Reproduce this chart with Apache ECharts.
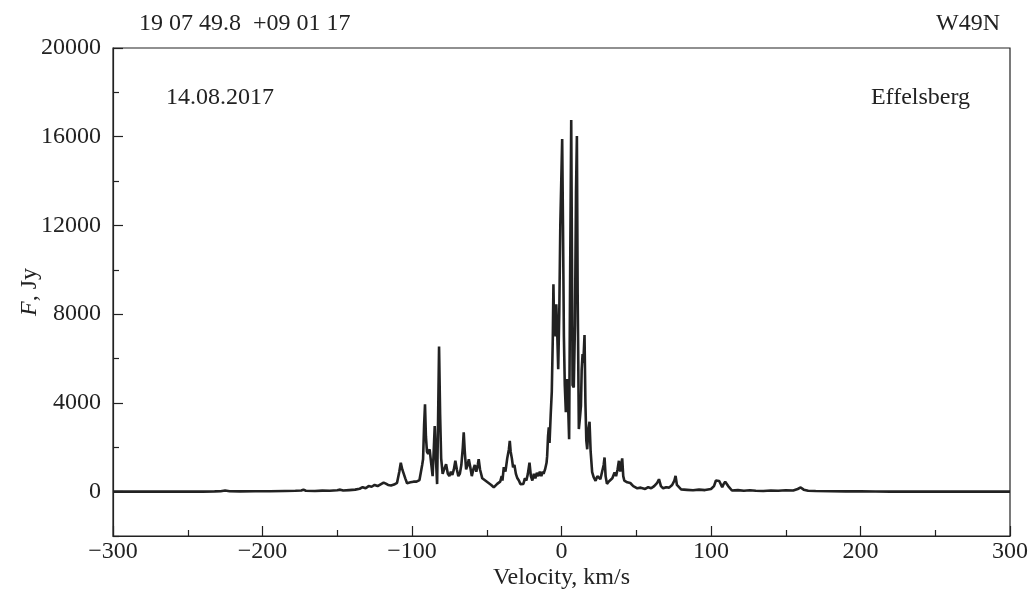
<!DOCTYPE html>
<html>
<head>
<meta charset="utf-8">
<script src="https://cdn.jsdelivr.net/npm/echarts@6/dist/echarts.min.js"></script>
<style>
html,body{margin:0;padding:0;background:#fff;}
#chart{width:1032px;height:596px;}
</style>
</head>
<body>
<div id="chart"></div>
<script>
// Velocity (km/s)
const velocity = [
-300,-290,-280,-270,-260,-250,-240,-232,-228,-225,-222,-215,-205,-195,-185,-178,-174,-172.6,-171,-165,-160,-155,-150,-148,-146,-142,-138,-135,-133,-131,-129,-127,-125,-123,-121,-119,-117.5,-116,-114,-112,-110,
-108.5,-107.5,-106.5,-105.5,-104.5,-103.3,-101,-99,-97,-95,-94,-93.2,-92.6,-91.9,-91.3,-90.7,-90,-89.2,-88.2,-87.2,-86.2,-85.5,-84.8,-84,-83.2,-82.6,-81.9,-81.2,-80.5,-79.5,-78.5,-77.2,-76,-75,-74,-73,-72,-71,-70,-69,-68,-67,-66,-65.4,-64.7,-63.8,-62.8,-62,-61,-60,-59,-58,-57,-56,-55.4,-54.5,-53,-51,-49,-47,-45.3,-44,-43,-42,-41,-40,-39.5,-38.6,-37.5,-36.3,-35.2,-34.6,-34,-33.2,-32.4,-31.5,-30.5,-29.5,-28.5,-27.5,-26.5,-25.5,-24.5,-23.5,-22.5,-21.4,-20.5,-19.5,-18.5,-17.5,-16.5,-15.5,-14.5,-13.5,-12.5,
-12,-11,-10,-9.6,-9,-8.5,-8,-7.2,-6.5,-5.8,-5.4,-5,-4.5,-4,-3.5,-3,-2.2,-1.5,-0.8,0,0.45,1,1.6,2.2,2.9,3.4,3.8,4.3,5.1,5.8,6.5,7.0,7.4,8.2,9.0,9.7,10.3,10.8,11.6,12.3,13.0,13.5,14.1,14.6,15.4,16,16.6,17.2,18,18.75,19.5,20.5,21.5,22.8,24,25,26,27,28.2,28.8,29.5,30.4,31.5,32.8,34,35.5,36.5,37.5,38.4,39.3,40.6,41.3,42,44,46,48,50.7,53,56,58,60,62,64,65.2,66.5,68,70,72,74,75.5,76.3,77.2,80,84,88,92,96,100,102,103.3,104.3,105.5,106.5,107.5,108.5,109.5,110.5,111.5,114,118,122,126,130,135,140,145,150,155,158,160,162,165,170,180,190,200,210,220,240,260,280,300
];
// Flux density (Jy)
const flux = [
0,5,0,8,0,5,0,10,20,50,20,10,20,15,30,40,50,90,40,30,45,40,60,90,50,70,90,130,200,150,250,220,300,250,330,410,360,300,280,320,400,
900,1300,1000,950,600,380,420,450,450,520,500,1200,1460,3000,3940,2500,1800,1700,1910,1300,700,1800,2960,1500,340,3000,6540,3500,1500,800,1000,1240,800,700,900,750,1000,1390,1000,700,800,1200,2000,2670,1800,1000,1200,1460,1100,700,1000,1200,900,1200,1460,1000,600,500,400,300,190,250,350,300,450,700,500,1100,900,1500,1900,2290,1800,1500,1100,1200,800,600,500,340,400,350,600,500,800,1310,700,500,800,600,850,700,900,700,900,
800,1000,1300,1600,2500,2900,2200,3500,4500,7000,9350,7600,8300,7000,8450,7500,5520,8000,12000,14500,15900,12000,7000,4800,3580,4500,5070,4200,2360,10000,16750,10500,4800,4700,7500,13500,16030,9000,2820,3300,3870,5500,6200,5800,7060,4000,2300,1910,2800,3150,1800,880,650,490,700,770,560,650,1200,1540,700,350,450,400,600,865,700,1000,1390,900,1500,700,500,420,390,250,150,180,120,200,150,250,400,560,250,150,200,180,300,500,710,300,100,80,60,90,70,120,250,500,560,480,400,200,350,450,490,250,50,70,40,60,40,30,50,40,60,50,120,190,90,40,30,20,10,15,5,0,5,0,0,0
];
const xTicks = [-300,-200,-100,0,100,200,300];
const yMajor = [0,4000,8000,12000,16000,20000];
const yMinor = [-2000,2000,6000,10000,14000,18000];

const data = velocity.map((v,i)=>[v, flux[i]]);
const ink = '#222';
const serif = 'Liberation Serif';
const chart = echarts.init(document.getElementById('chart'), null, {renderer:'canvas'});
chart.setOption({
  animation:false,
  backgroundColor:'#fff',
  grid:{left:113,right:22,top:48,bottom:60,outerBoundsMode:'none',containLabel:false,show:true,borderColor:ink,borderWidth:1.2,backgroundColor:'transparent'},
  xAxis:{
    type:'value',min:-300,max:300,interval:100,
    axisLine:{onZero:false,lineStyle:{color:ink,width:1.2}},
    axisTick:{inside:true,length:10,lineStyle:{color:ink,width:1.2}},
    minorTick:{show:true,splitNumber:2,length:6,lineStyle:{color:ink,width:1.2}},
    splitLine:{show:false},
    axisLabel:{color:ink,fontFamily:serif,fontSize:24,margin:4,formatter:v=>v<0?'\u2212'+Math.abs(v):String(v)},
    name:'Velocity, km/s',nameLocation:'middle',nameGap:30,nameMoveOverlap:false,
    nameTextStyle:{color:ink,fontFamily:serif,fontSize:24}
  },
  yAxis:[{
    type:'value',min:-2000,max:20000,
    axisLine:{onZero:false,lineStyle:{color:ink,width:1.2}},
    axisTick:{inside:true,length:10,customValues:yMajor,lineStyle:{color:ink,width:1.2}},
    axisLabel:{color:ink,fontFamily:serif,fontSize:24,margin:12,customValues:yMajor,formatter:v=>String(v)},
    splitLine:{show:false},
    name:'{i|F}, Jy',nameLocation:'middle',nameGap:71,nameMoveOverlap:false,
    nameTextStyle:{color:ink,fontFamily:serif,fontSize:24,rich:{i:{fontStyle:'italic',fontFamily:serif,fontSize:24,color:ink}}}
  },{
    type:'value',min:-2000,max:20000,position:'left',offset:0,
    axisLine:{show:false,onZero:false},
    axisTick:{inside:true,length:6,customValues:yMinor,lineStyle:{color:ink,width:1.2}},
    axisLabel:{show:false},
    splitLine:{show:false}
  }],
  series:[{
    type:'line',data:data,showSymbol:false,symbol:'none',
    lineStyle:{color:ink,width:2.6},
    yAxisIndex:0
  }],
  graphic:[
    {type:'text',left:139,top:12,style:{text:'19 07 49.8  +09 01 17',font:'24px "Liberation Serif"',fill:ink}},
    {type:'text',right:32,top:12,style:{text:'W49N',font:'24px "Liberation Serif"',fill:ink}},
    {type:'text',left:166,top:86,style:{text:'14.08.2017',font:'24px "Liberation Serif"',fill:ink}},
    {type:'text',right:62,top:86,style:{text:'Effelsberg',font:'24px "Liberation Serif"',fill:ink}}
  ]
});
</script>
</body>
</html>
